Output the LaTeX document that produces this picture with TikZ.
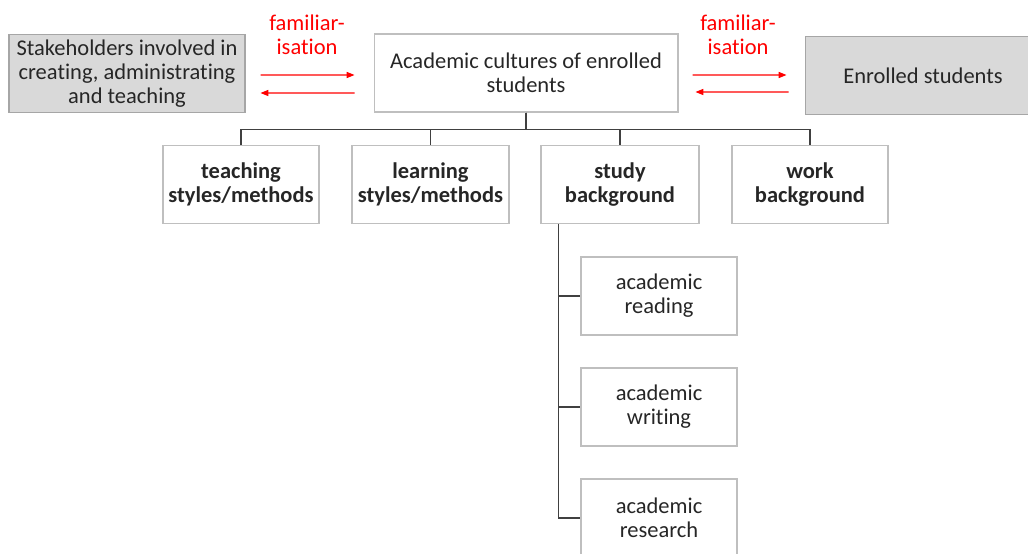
\documentclass[tikz,border=0pt]{standalone}
\usepackage{fontspec}
\setmainfont{Carlito}[Ligatures=NoCommon]
\usetikzlibrary{arrows.meta}
\definecolor{boxline}{HTML}{BFBFBF}
\definecolor{greyline}{HTML}{A6A6A6}
\definecolor{greyfill}{HTML}{D9D9D9}
\definecolor{inktext}{HTML}{262626}
\tikzset{
  box/.style={draw=boxline, line width=0.6pt, minimum height=1.56cm, inner sep=0pt, align=center, text=inktext},
  greybox/.style={box, draw=greyline, fill=greyfill},
  famlabel/.style={text=red, align=center},
  fam/.style={red, line width=0.6pt, -{Triangle[length=4.5pt,width=3.5pt]}},
  tree/.style={draw=black!75, line width=0.9pt}
}
\begin{document}
\begin{tikzpicture}[x=0.02cm, y=-0.02cm, every node/.style={font=\fontsize{12.8}{13.6}\selectfont}]
            \useasboundingbox (0,0) rectangle (1028,554);
            \node[greybox, minimum width=4.72cm] (stake) at (127,73.5) {Stakeholders involved in\\creating, administrating\\and teaching};
            \node[box, minimum width=6.08cm] (central) at (526,73) {Academic cultures of enrolled\\students};
            \node[greybox, minimum width=4.72cm] (enrolled) at (923,75.5) {Enrolled students};
            \node[famlabel] (famleft) at (307,35) {familiar-\\isation};
            \node[famlabel] (famright) at (738,35) {familiar-\\isation};
            \draw[fam] ([xshift=0.3cm, yshift=-0.03cm]stake.east) -- ([xshift=-0.38cm, yshift=-0.04cm]central.west);
            \draw[fam] ([xshift=-0.38cm, yshift=-0.4cm]central.west) -- ([xshift=0.3cm, yshift=-0.39cm]stake.east);
            \draw[fam] ([xshift=0.28cm, yshift=-0.04cm]central.east) -- ([xshift=-0.36cm, yshift=0.01cm]enrolled.west);
            \draw[fam] ([xshift=-0.32cm, yshift=-0.33cm]enrolled.west) -- ([xshift=0.34cm, yshift=-0.38cm]central.east);
            \node[box, minimum width=3.12cm, font=\fontsize{12.8}{13.6}\selectfont\bfseries] (teach) at (241,184.5) {teaching\\styles/methods};
            \node[box, minimum width=3.14cm, font=\fontsize{12.8}{13.6}\selectfont\bfseries] (learn) at (430.5,184.5) {learning\\styles/methods};
            \node[box, minimum width=3.16cm, font=\fontsize{12.8}{13.6}\selectfont\bfseries] (study) at (620,184.5) {study\\background};
            \node[box, minimum width=3.12cm, font=\fontsize{12.8}{13.6}\selectfont\bfseries] (work) at (810,184.5) {work\\background};
            \foreach \child in {teach,learn,study,work}
              \draw[tree] (central.south) -- ++(0,17) -| (\child.north);
            \node[box, minimum width=3.12cm] (read) at (659,296) {academic\\reading};
            \node[box, minimum width=3.12cm] (write) at (659,407) {academic\\writing};
            \node[box, minimum width=3.12cm] (research) at (659,518) {academic\\research};
            \coordinate (trunk) at ([xshift=0.36cm]study.south west);
            \foreach \leaf in {read,write,research}
              \draw[tree] (trunk) |- (\leaf.west);
        \end{tikzpicture}
\end{document}
